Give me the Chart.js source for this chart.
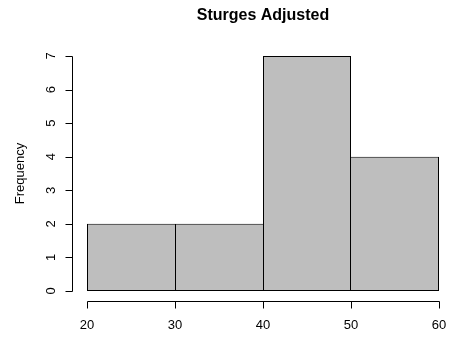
<!DOCTYPE html>
<html>
<head>
<meta charset="utf-8">
<script src="https://cdn.jsdelivr.net/npm/chart.js@4/dist/chart.umd.min.js"></script>
<style>
  body { margin: 0; background: #fff; }
  canvas { display: block; }
</style>
</head>
<body>
<canvas id="hist" width="449" height="339"></canvas>
<script>
// histogram data
var breaks = [20, 30, 40, 50, 60]
var counts = [2, 2, 7, 4]
var xTicks = [20, 30, 40, 50, 60]
var yTicks = [0, 1, 2, 3, 4, 5, 6, 7]
var mainTitle = 'Sturges Adjusted'
var yTitle = 'Frequency'

var bins = []
for (var i = 0; i < counts.length; i++) {
    bins.push({ x: (breaks[i] + breaks[i + 1]) / 2, y: counts[i] })
}

var font = '"Liberation Sans", Arial, Helvetica, sans-serif'

// shared edges belong to the taller bar so they are only drawn once
function edgeWidths(c) {
    var i = c.dataIndex
    var last = counts.length - 1
    return {
        top: 1,
        bottom: 1,
        left: (i === 0 || counts[i - 1] <= counts[i]) ? 1 : 0,
        right: (i === last || counts[i + 1] < counts[i]) ? 1 : 0
    }
}

// R style detached axes, drawn from the chart's own scales
var baseAxes = {
    id: 'baseAxes',
    afterDraw: function (chart) {
        var ctx = chart.ctx
        var xs = chart.scales.x
        var ys = chart.scales.y
        ctx.save()
        ctx.strokeStyle = '#000'
        ctx.fillStyle = '#000'
        ctx.lineWidth = 1

        // x axis
        var axY = 301.5
        ctx.beginPath()
        ctx.moveTo(Math.round(xs.getPixelForValue(xTicks[0])) + 0.5, axY)
        ctx.lineTo(Math.round(xs.getPixelForValue(xTicks[xTicks.length - 1])) + 0.5, axY)
        for (var i = 0; i < xTicks.length; i++) {
            var px = Math.round(xs.getPixelForValue(xTicks[i])) + 0.5
            ctx.moveTo(px, axY)
            ctx.lineTo(px, axY + 7)
        }
        ctx.stroke()
        ctx.font = '13px ' + font
        ctx.textAlign = 'center'
        ctx.textBaseline = 'middle'
        for (var i = 0; i < xTicks.length; i++) {
            ctx.fillText(String(xTicks[i]), xs.getPixelForValue(xTicks[i]), 325)
        }

        // y axis
        var axX = 72.5
        ctx.beginPath()
        ctx.moveTo(axX, Math.round(ys.getPixelForValue(yTicks[0])) + 0.5)
        ctx.lineTo(axX, Math.round(ys.getPixelForValue(yTicks[yTicks.length - 1])) + 0.5)
        for (var j = 0; j < yTicks.length; j++) {
            var py = Math.round(ys.getPixelForValue(yTicks[j])) + 0.5
            ctx.moveTo(axX, py)
            ctx.lineTo(axX - 7, py)
        }
        ctx.stroke()
        for (var j = 0; j < yTicks.length; j++) {
            ctx.save()
            ctx.translate(51, ys.getPixelForValue(yTicks[j]))
            ctx.rotate(-Math.PI / 2)
            ctx.fillText(String(yTicks[j]), 0, 0)
            ctx.restore()
        }

        // axis title
        ctx.save()
        ctx.translate(20, (chart.chartArea.top + chart.chartArea.bottom) / 2)
        ctx.rotate(-Math.PI / 2)
        ctx.fillText(yTitle, 0, 0)
        ctx.restore()

        // main title
        ctx.font = 'bold 16px ' + font
        ctx.fillText(mainTitle, (chart.chartArea.left + chart.chartArea.right) / 2, 16)
        ctx.restore()
    }
}

var ctx = document.getElementById('hist').getContext('2d')
var chart = new Chart(ctx, {
    type: 'bar',
    data: {
        datasets: [{
            data: bins,
            backgroundColor: '#bebebe',
            borderColor: '#000',
            borderWidth: edgeWidths,
            borderSkipped: false,
            inflateAmount: 0,
            barPercentage: 1,
            categoryPercentage: 1
        }]
    },
    options: {
        responsive: false,
        animation: false,
        layout: { padding: { left: 87, right: 10, top: 56, bottom: 48 } },
        plugins: {
            legend: { display: false },
            tooltip: { enabled: false }
        },
        scales: {
            x: {
                type: 'linear',
                min: breaks[0],
                max: breaks[breaks.length - 1],
                offset: false,
                display: false,
                ticks: { stepSize: 10 }
            },
            y: {
                min: 0,
                max: 7,
                display: false
            }
        }
    },
    plugins: [baseAxes]
})
</script>
</body>
</html>
